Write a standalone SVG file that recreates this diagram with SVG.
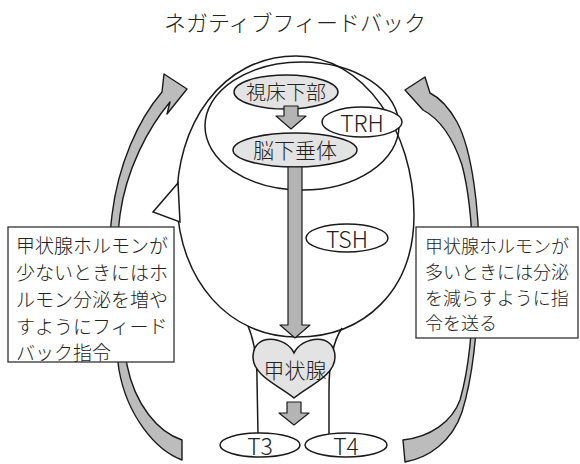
<svg xmlns="http://www.w3.org/2000/svg" width="580" height="464" viewBox="0 0 580 464">
  <defs>
    <style>
      .jp { font-family: "Noto Sans CJK JP", "Noto Sans", sans-serif; font-weight: 300; fill: #222222; }
      .lat { font-family: "Noto Sans CJK JP", "Noto Sans", sans-serif; font-weight: 300; fill: #222222; font-size: 23px; text-anchor: middle; dominant-baseline: central; }
      .line { fill: none; stroke: #1a1a1a; stroke-width: 1.5; stroke-linejoin: round; }
      .white { fill: #ffffff; stroke: #1a1a1a; stroke-width: 1.5; }
      .organ { fill: #e3e3e3; stroke: #1a1a1a; stroke-width: 1.5; }
      .band { fill: #bcbcbc; stroke: #1a1a1a; stroke-width: 1.4; stroke-linejoin: round; }
      .block { fill: #b4b4b4; stroke: #1a1a1a; stroke-width: 1.2; stroke-linejoin: round; }
      .box { fill: #ffffff; stroke: #333333; stroke-width: 1.3; }
    </style>
  </defs>

  <rect width="580" height="464" fill="#ffffff"/>

  <!-- title -->
  <text id="title" class="jp" x="295" y="21" font-size="22" text-anchor="middle" dominant-baseline="central">ネガティブフィードバック</text>

  <!-- feedback loop arrows (behind the note boxes) -->
  <g id="connectors-feedback">
    <path class="band" d="M182,460 C155,450 127,415 119,370 C112,320 106,260 112,215 C118,165 138,120 162,92 L164,74 L187,89 L167,114 L170,102 C148,128 126,170 120,215 C114,262 120,320 127,365 C135,405 158,432 182,440 Z"/>
    <path class="band" d="M405,462 C428,458 452,442 462,412 C472,380 478,330 479,270 C480,210 472,150 457,122 C448,106 440,98 430,93 L425,77 L405,90 L423,110 C438,118 452,135 462,165 C470,195 473,240 473,280 C473,330 468,372 460,400 C452,422 430,437 403,440 Z"/>
  </g>

  <!-- note boxes -->
  <g id="note-low">
    <rect class="box" x="8" y="227" width="166" height="135"/>
    <text class="jp" font-size="19" dominant-baseline="central">
      <tspan x="16" y="244">甲状腺ホルモンが</tspan>
      <tspan x="16" y="271">少ないときにはホ</tspan>
      <tspan x="16" y="298">ルモン分泌を増や</tspan>
      <tspan x="16" y="325">すようにフィード</tspan>
      <tspan x="16" y="351">バック指令</tspan>
    </text>
  </g>
  <g id="note-high">
    <rect class="box" x="416" y="227" width="162" height="111"/>
    <text class="jp" font-size="18" dominant-baseline="central">
      <tspan x="425" y="245">甲状腺ホルモンが</tspan>
      <tspan x="425" y="271">多いときには分泌</tspan>
      <tspan x="425" y="297">を減らすように指</tspan>
      <tspan x="425" y="322">令を送る</tspan>
    </text>
  </g>

  <!-- head silhouette with neck -->
  <g id="head">
    <path class="white" d="M296,56 C363,56 414,130 414,215 C414,290 365,337 297,337 C228,337 180,280 177,205 C175,125 222,56 296,56 Z"/>
    <polygon class="white" points="178,183 153,212 180,222"/>
    <path class="line" d="M248,326 C254,340 257,360 257,380 L258,434"/>
    <path class="line" d="M342,328 C334,340 329,360 329,390 L329,434"/>
  </g>

  <!-- brain outline -->
  <g id="brain">
    <ellipse class="line" cx="302" cy="126" rx="97" ry="64"/>
  </g>

  <g id="trh">
    <ellipse class="white" cx="362" cy="122" rx="40" ry="15"/>
    <text class="lat" x="362" y="122">TRH</text>
  </g>

  <g id="hypothalamus">
    <ellipse class="organ" cx="286" cy="92" rx="52" ry="17"/>
    <text class="jp" x="286" y="91" font-size="20" text-anchor="middle" dominant-baseline="central">視床下部</text>
  </g>

  <g id="pituitary">
    <ellipse class="organ" cx="295" cy="150" rx="62" ry="17"/>
    <text class="jp" x="295" y="149" font-size="21" text-anchor="middle" dominant-baseline="central">脳下垂体</text>
  </g>

  <g id="tsh">
    <ellipse class="white" cx="347" cy="238" rx="41" ry="14"/>
    <text class="lat" x="347" y="238">TSH</text>
  </g>

  <g id="thyroid">
    <path class="organ" d="M294,353 C286,336 253,332 253,357 C253,376 280,386 294,398 C308,386 335,376 335,357 C335,332 302,336 294,353 Z"/>
    <text class="jp" x="295" y="369" font-size="21" text-anchor="middle" dominant-baseline="central">甲状腺</text>
  </g>

  <g id="t3">
    <ellipse class="white" cx="260" cy="445" rx="40" ry="12"/>
    <text class="lat" x="260" y="445">T3</text>
  </g>
  <g id="t4">
    <ellipse class="white" cx="346" cy="445" rx="41" ry="12"/>
    <text class="lat" x="346" y="445">T4</text>
  </g>

  <!-- signal flow arrows -->
  <g id="connectors">
    <polygon class="block" points="284,106 298,106 298,116 306,116 291,129 276,116 284,116"/>
    <polygon class="block" points="288,167 302,167 302,325 310,325 295,338 280,325 288,325"/>
    <polygon class="block" points="287,402 301,402 301,413 309,413 294,425 279,413 287,413"/>
  </g>
</svg>
